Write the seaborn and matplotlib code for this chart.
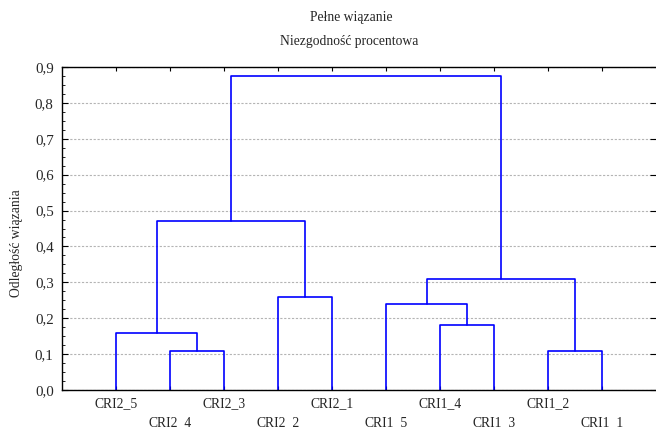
import numpy as np
import pandas as pd
import matplotlib
matplotlib.use("Agg")
import matplotlib.pyplot as plt
import seaborn as sns
from matplotlib.ticker import MultipleLocator, FuncFormatter

# ---- data ----
leaf_labels = ["CRI2_5", "CRI2_4", "CRI2_3", "CRI2_2", "CRI2_1",
               "CRI1_5", "CRI1_4", "CRI1_3", "CRI1_2", "CRI1_1"]
# linkage (scipy-like): clusters 0..9 are leaves, new clusters get 10, 11, ...
merge_left = [1, 8, 0, 6, 5, 3, 14, 12, 17]
merge_right = [2, 9, 10, 7, 13, 4, 11, 15, 16]
merge_height = [0.11, 0.11, 0.16, 0.18, 0.24, 0.26, 0.31, 0.47, 0.875]

title_lines = ["Pełne wiązanie", "Niezgodność procentowa"]
y_label = "Odległość wiązania"

# ---- build dendrogram segments ----
n = len(leaf_labels)
pos = {i: float(i + 1) for i in range(n)}
hgt = {i: 0.0 for i in range(n)}
rows = []
for k, (a, b, h) in enumerate(zip(merge_left, merge_right, merge_height)):
    cid = n + k
    xs = [pos[a], pos[a], pos[b], pos[b]]
    ys = [hgt[a], h, h, hgt[b]]
    for order, (xx, yy) in enumerate(zip(xs, ys)):
        rows.append({"link": cid, "order": order, "x": xx, "y": yy})
    pos[cid] = (pos[a] + pos[b]) / 2
    hgt[cid] = h
df = pd.DataFrame(rows)

# ---- plot ----
sns.set_theme(style="white")
plt.rcParams["font.family"] = ["Liberation Serif", "DejaVu Serif"]
plt.rcParams["font.size"] = 9.8

fig = plt.figure(figsize=(6.56, 4.28), dpi=100)
ax = fig.add_axes([62 / 656, 1 - 390 / 428, 1 - 62 / 656, (390 - 67) / 428])

sns.lineplot(data=df, x="x", y="y", units="link", estimator=None, sort=False,
             color="#0000ff", linewidth=1.2, ax=ax, legend=False)

ax.set_xlim(0, n + 1)
ax.set_ylim(0, 0.9)

ax.yaxis.set_major_locator(MultipleLocator(0.1))
ax.yaxis.set_minor_locator(MultipleLocator(0.025))
ax.yaxis.set_major_formatter(FuncFormatter(lambda v, p: f"{v:.1f}".replace(".", ",")))
ax.grid(axis="y", which="major", color="#b4b4b4", linestyle=(0, (2.0, 1.5)), linewidth=0.8)
ax.set_axisbelow(True)

ax.set_xticks(np.arange(1, n + 1))
labs = [lab if i % 2 == 0 else "\n" + lab for i, lab in enumerate(leaf_labels)]
ax.set_xticklabels(labs)
for i, t in enumerate(ax.get_xticklabels()):
    t.set_linespacing(1.6)
    t.set_fontsize(9.8)

ax.tick_params(axis="y", which="major", direction="in", length=4, width=0.8,
               left=True, right=True, labelsize=10.8, pad=6, color="black")
ax.tick_params(axis="y", which="minor", direction="in", length=2.5, width=0.6,
               left=True, right=False, color="black")
ax.tick_params(axis="x", which="major", direction="in", length=3, width=0.8,
               bottom=True, top=True, pad=5, color="black")

for side in ["left", "bottom", "top"]:
    ax.spines[side].set_visible(True)
    ax.spines[side].set_color("black")
    ax.spines[side].set_linewidth(1.0)
ax.spines["right"].set_visible(False)

ax.set_xlabel("")
ax.set_ylabel("")

fig.text(351 / 656, 1 - 18 / 428, title_lines[0], ha="center", va="center", fontsize=9.8)
fig.text(349 / 656, 1 - 41.5 / 428, title_lines[1], ha="center", va="center", fontsize=9.8)
fig.text(16.5 / 656, 1 - 243 / 428, y_label, ha="center", va="center",
         rotation=90, fontsize=9.8)

fig.savefig("out.png", dpi=100)
